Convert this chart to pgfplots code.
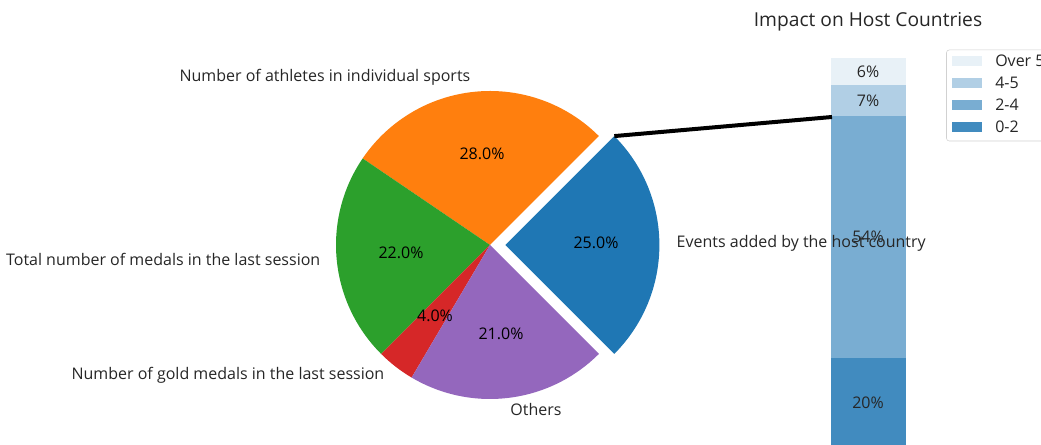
\documentclass[border=0pt]{standalone}
\usepackage{fontspec}
\setmainfont{Open Sans}
\usepackage{pgfplots}
\pgfplotsset{compat=1.18}
\definecolor{cblue}{HTML}{1F77B4}
\definecolor{corange}{HTML}{FF7F0E}
\definecolor{cgreen}{HTML}{2CA02C}
\definecolor{cred}{HTML}{D62728}
\definecolor{cpurple}{HTML}{9467BD}
\definecolor{bOver}{HTML}{E8F1F7}
\definecolor{bFourFive}{HTML}{B1CFE5}
\definecolor{bTwoFour}{HTML}{79ADD2}
\definecolor{bZeroTwo}{HTML}{418BBF}
\definecolor{txt}{HTML}{262626}
% pie slice: centre x, centre y, start share (%), end share (%), colour
\newcommand{\pieslice}[5]{%
  \fill[#5] (axis cs:#1,#2) -- ++({-45+3.6*#3}:115.5pt)
    arc[start angle={-45+3.6*#3}, end angle={-45+3.6*#4}, radius=115.5pt] -- cycle;}
% legend row: y (px, from bottom), colour, text
\newcommand{\legrow}[3]{%
  \fill[#2] (axis cs:952,#1-5) rectangle (axis cs:982,#1+5);
  \node[txt, anchor=west, inner sep=0pt] at (axis cs:995,#1) {#3};}
\begin{document}
\begin{tikzpicture}[font=\fontsize{12}{14}\selectfont]
\useasboundingbox (0,0) rectangle (780.75pt,333.75pt);
\clip (0,0) rectangle (780.75pt,333.75pt);
% ---------------- bar of the host countries ----------------
\begin{axis}[at={(570pt,0pt)}, anchor=south west, scale only axis,
  width=162pt, height=333.75pt, xmin=-1, xmax=1, ymin=13.6, ymax=112.95,
  hide axis, ybar stacked, bar width=56.25pt, clip=false]
\addplot[fill=none, draw=none, forget plot] coordinates {(0,13)};
\addplot[fill=bZeroTwo, draw=none] coordinates {(0,20)};   % 0-2
\addplot[fill=bTwoFour, draw=none] coordinates {(0,54)};   % 2-4
\addplot[fill=bFourFive, draw=none] coordinates {(0,7)};   % 4-5
\addplot[fill=bOver, draw=none] coordinates {(0,6)};       % Over 5
\end{axis}
% ---------------- pie ----------------
\begin{axis}[at={(0pt,0pt)}, anchor=south west, scale only axis,
  width=780.75pt, height=333.75pt, xmin=0, xmax=1041, ymin=0, ymax=445,
  hide axis, clip=false]
\pieslice{505.4}{200}{0}{25}{cblue}
\pieslice{490}{200}{25}{53}{corange}
\pieslice{490}{200}{53}{75}{cgreen}
\pieslice{490}{200}{75}{79}{cred}
\pieslice{490}{200}{79}{100}{cpurple}
\addplot[black, line width=3pt] coordinates {(614.3,308.9) (832,328)};
\node[txt, anchor=east] at (axis cs:475,368) {Number of athletes in individual sports};
\node[txt, anchor=east] at (axis cs:325,186) {Total number of medals in the last session};
\node[txt, anchor=east] at (axis cs:389,70) {Number of gold medals in the last session};
\node[txt] at (axis cs:536,35) {Others};
\node[txt, anchor=west] at (axis cs:672,202) {Events added by the host country};
\node at (axis cs:482,291) {28.0\%};
\node at (axis cs:401,192) {22.0\%};
\node at (axis cs:435,129) {4.0\%};
\node at (axis cs:501,111) {21.0\%};
\node at (axis cs:596,202) {25.0\%};
% labels of the bar segments (shares 6, 7, 54, 20 %)
\node[txt] at (axis cs:868,373) {6\%};
\node[txt] at (axis cs:868,344) {7\%};
\node[txt] at (axis cs:868,208) {54\%};
\node[txt] at (axis cs:868,42) {20\%};
\node[txt, font=\fontsize{14.4}{16}\selectfont] at (axis cs:868,423) {Impact on Host Countries};
% legend
\draw[black!18, fill=white, rounded corners=2pt] (axis cs:946.5,395) rectangle (axis cs:1070,304);
\legrow{384}{bOver}{Over 5}
\legrow{362}{bFourFive}{4-5}
\legrow{340}{bTwoFour}{2-4}
\legrow{318}{bZeroTwo}{0-2}
\end{axis}
\end{tikzpicture}
\end{document}
